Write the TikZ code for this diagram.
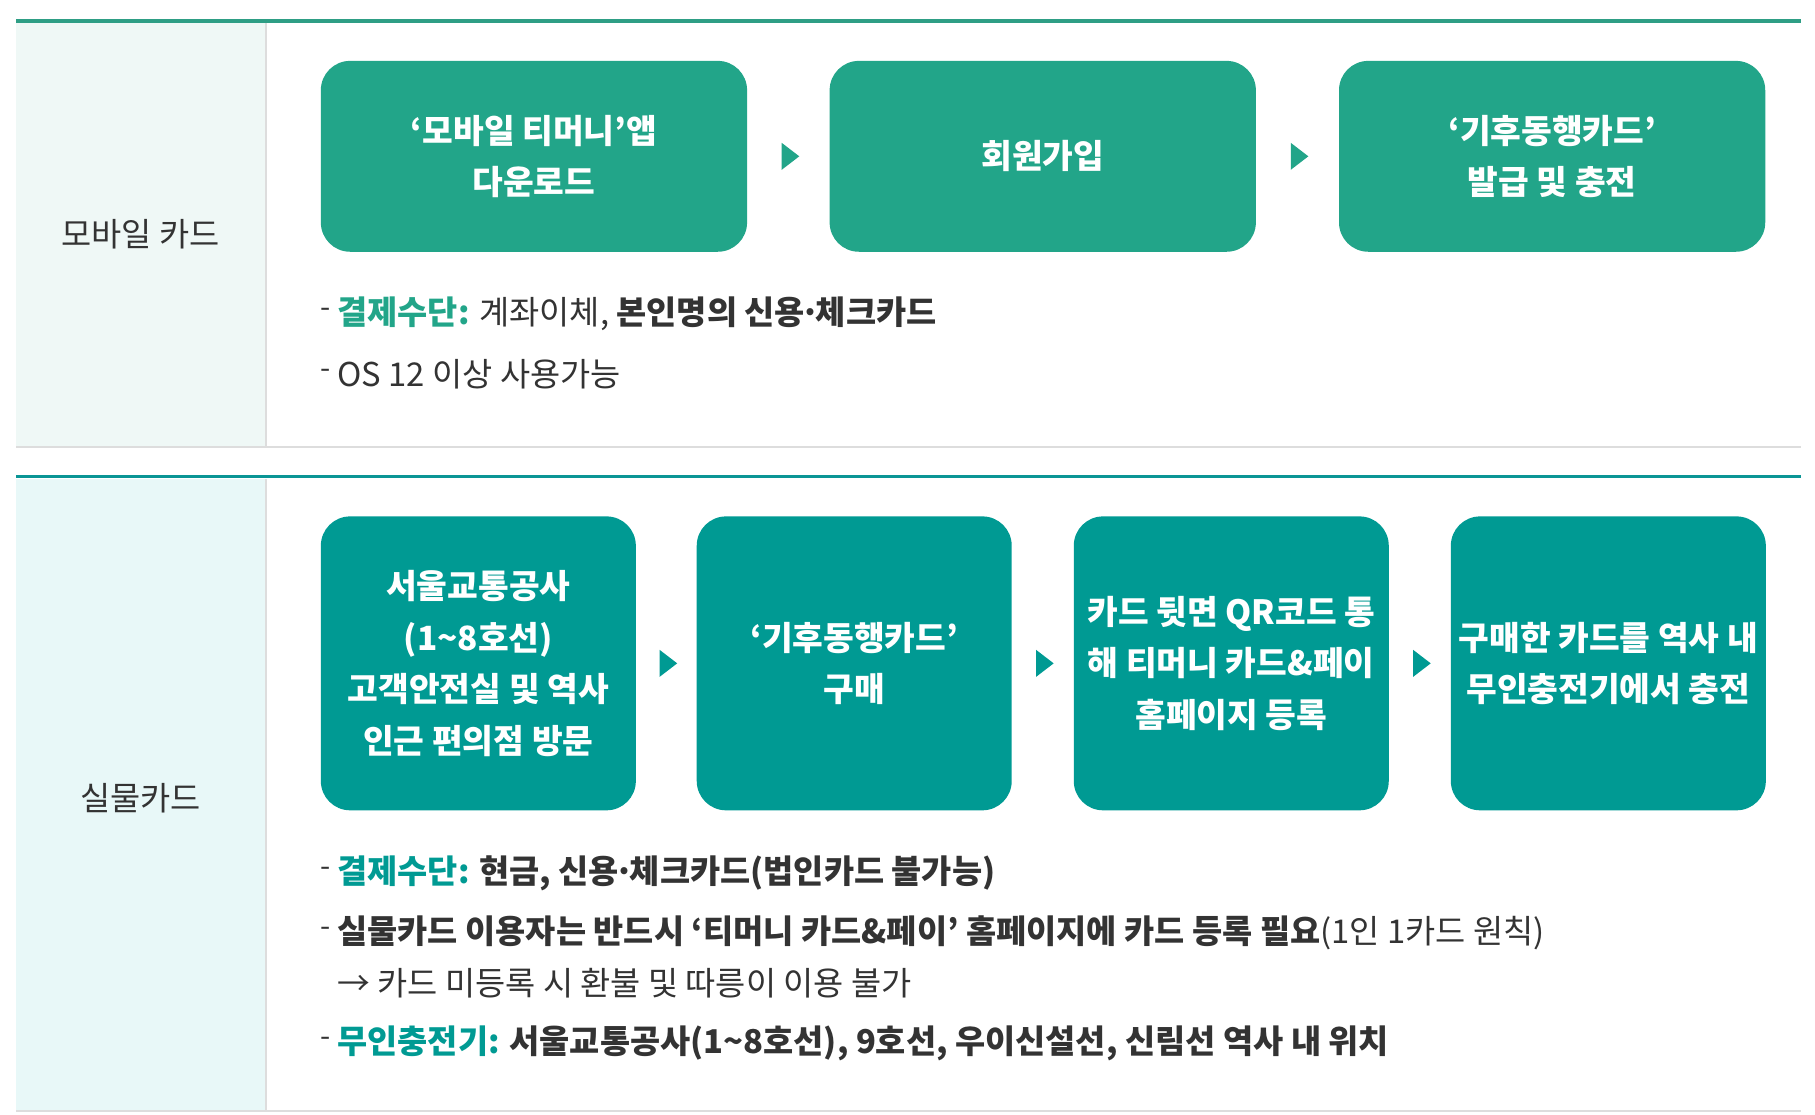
\documentclass[tikz,border=0pt]{standalone}
\usepackage{fontspec}
\setmainfont{Noto Sans CJK KR}
\usetikzlibrary{shapes.geometric,calc}
\definecolor{tealA}{HTML}{22A589}
\definecolor{tealB}{HTML}{009A93}
\definecolor{lineA}{HTML}{2E9E85}
\definecolor{lineB}{HTML}{0A9595}
\definecolor{bgA}{HTML}{EFF8F6}
\definecolor{bgB}{HTML}{E8F8F8}
\definecolor{txt}{HTML}{333333}
\definecolor{grayline}{HTML}{DDDDDD}
\newcommand{\mydot}{\kern-.14em·\kern-.14em}
\tikzset{
  stepA/.style={fill=tealA, rounded corners=25pt, minimum width=364pt, minimum height=163pt, text=white, align=center, font=\fontsize{28.5}{44}\selectfont\bfseries, inner sep=0pt},
  stepB/.style={fill=tealB, rounded corners=25pt, minimum width=269pt, minimum height=251pt, text=white, align=center, font=\fontsize{28.5}{44}\selectfont\bfseries, inner sep=0pt},
  triA/.style={isosceles triangle, isosceles triangle apex angle=75, fill=tealA, minimum height=15pt, minimum width=20pt, inner sep=0pt},
  triB/.style={isosceles triangle, isosceles triangle apex angle=75, fill=tealB, minimum height=15pt, minimum width=20pt, inner sep=0pt},
  sidelabel/.style={text=txt, font=\fontsize{28}{32}\selectfont},
  bullet/.style={anchor=west, text=txt, font=\fontsize{28}{32}\selectfont, inner sep=0pt},
  dashmark/.style={text=txt, font=\fontsize{25}{28}\selectfont, inner sep=0pt},
}
\begin{document}
\begin{tikzpicture}[x=1pt,y=-1pt]
\useasboundingbox (0,0) rectangle (1550,952);
% backgrounds
\fill[bgA] (14,20) rectangle (227,381);
\fill[bgB] (14,409) rectangle (227,948);
\draw[grayline, line width=1.2pt] (227,20) -- (227,381);
\draw[grayline, line width=1.2pt] (227,409) -- (227,948);
\draw[lineA, line width=3.2pt] (14,18) -- (1538,18);
\draw[grayline, line width=2pt] (14,382) -- (1538,382);
\draw[lineB, line width=3.2pt] (14,407) -- (1538,407);
\draw[grayline, line width=2pt] (14,949) -- (1538,949);
% side labels
\node[sidelabel] (lblA) at (120,200) {모바일 카드};
\node[sidelabel] (lblB) at (120,682) {실물카드};
% top row
\node[stepA] (a1) at (456,133.5) {‘모바일 티머니’앱\\다운로드};
\node[stepA] (a2) at (890.5,133.5) {회원가입};
\node[stepA] (a3) at (1325.5,133.5) {‘기후동행카드’\\발급 및 충전};
\node[triA] (ta1) at ($(a1.east)!0.5!(a2.west)$) {};
\node[triA] (ta2) at ($(a2.east)!0.5!(a3.west)$) {};
% top bullets
\node[dashmark] (da1) at (278,267) {-};
\node[bullet] (ba1) at (288,268) {\textcolor{tealA}{\bfseries 결제수단:} 계좌이체, {\bfseries 본인명의 신용\mydot 체크카드}};
\node[dashmark] (da2) at (278,319) {-};
\node[bullet] (ba2) at (288,320) {OS 12 이상 사용가능};
% bottom row
\node[stepB] (b1) at (408.5,566.5) {서울교통공사\\(1\textasciitilde 8호선)\\고객안전실 및 역사\\인근 편의점 방문};
\node[stepB] (b2) at (729.5,566.5) {‘기후동행카드’\\구매};
\node[stepB] (b3) at (1051.5,566.5) {카드 뒷면 QR코드 통\\해 티머니 카드\&페이\\홈페이지 등록};
\node[stepB] (b4) at (1373.5,566.5) {구매한 카드를 역사 내\\무인충전기에서 충전};
\node[triB] (tb1) at ($(b1.east)!0.5!(b2.west)$) {};
\node[triB] (tb2) at ($(b2.east)!0.5!(b3.west)$) {};
\node[triB] (tb3) at ($(b3.east)!0.5!(b4.west)$) {};
% bottom bullets
\node[dashmark] (db1) at (278,745) {-};
\node[bullet] (bb1) at (288,746) {\textcolor{tealB}{\bfseries 결제수단:} {\bfseries 현금, 신용\mydot 체크카드(법인카드 불가능)}};
\node[dashmark] (db2) at (278,796) {-};
\node[bullet] (bb2) at (288,797) {{\bfseries 실물카드 이용자는 반드시 ‘티머니 카드\&페이’ 홈페이지에 카드 등록 필요}(1인 1카드 원칙)};
\node[bullet] (bb3) at (288,840) {→ 카드 미등록 시 환불 및 따릉이 이용 불가};
\node[dashmark] (db3) at (278,890) {-};
\node[bullet] (bb4) at (288,891) {\textcolor{tealB}{\bfseries 무인충전기:} {\bfseries 서울교통공사(1\textasciitilde 8호선), 9호선, 우이신설선, 신림선 역사 내 위치}};
\end{tikzpicture}
\end{document}
